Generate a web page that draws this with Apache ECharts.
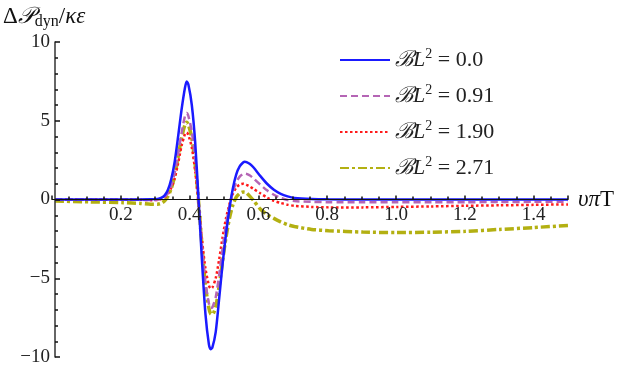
<!DOCTYPE html>
<html>
<head>
<meta charset="utf-8">
<script src="https://cdn.jsdelivr.net/npm/echarts@6/dist/echarts.min.js"></script>
<style>
  html, body { margin: 0; padding: 0; background: #fff; }
  #chart { width: 623px; height: 375px; }
</style>
</head>
<body>
<div id="chart"></div>
<script>
// x values (υπT) shared by all curves
const xs = [0, 0.1, 0.2, 0.25, 0.28,
  0.30, 0.31, 0.32, 0.33, 0.34, 0.35, 0.36, 0.37, 0.38, 0.385,
  0.39, 0.40, 0.41, 0.42, 0.43, 0.44, 0.45, 0.455,
  0.46, 0.47, 0.48, 0.49, 0.50, 0.51, 0.52, 0.53, 0.54, 0.55, 0.555,
  0.56, 0.57, 0.58, 0.60, 0.62, 0.64, 0.66, 0.68, 0.70, 0.75, 0.80,
  0.90, 1.0, 1.1, 1.2, 1.3, 1.4, 1.5]

// BL^2 = 0.0
const bl00 = [0, 0, 0, 0, 0.01,
  0.04, 0.1, 0.25, 0.6, 1.3, 2.4, 4.0, 5.7, 7.1, 7.5,
  7.3, 6.0, 3.6, -0.1, -4.0, -7.3, -9.2, -9.5,
  -9.4, -8.4, -6.3, -4.1, -2.2, -0.6, 0.7, 1.6, 2.1, 2.35, 2.4,
  2.38, 2.25, 2.05, 1.5, 1.0, 0.62, 0.36, 0.2, 0.1, 0.03, 0.01,
  0, 0, 0, 0, 0, 0, 0]

// BL^2 = 0.91
const bl091 = [0, 0, 0, -0.02, -0.03,
  -0.02, 0.03, 0.15, 0.4, 0.9, 1.7, 2.9, 4.2, 5.3, 5.5,
  5.3, 4.3, 2.5, -0.1, -3.0, -5.3, -6.6, -6.9,
  -6.85, -6.2, -4.8, -3.1, -1.6, -0.4, 0.5, 1.1, 1.45, 1.62, 1.65,
  1.63, 1.52, 1.35, 0.95, 0.58, 0.3, 0.1, -0.03, -0.1, -0.15, -0.17,
  -0.18, -0.18, -0.17, -0.17, -0.16, -0.15, -0.15]

// BL^2 = 1.90
const bl190 = [0, 0, 0, -0.02, -0.04,
  -0.03, 0.02, 0.12, 0.35, 0.75, 1.35, 2.3, 3.4, 4.15, 4.25,
  4.1, 3.3, 1.8, -0.3, -2.6, -4.4, -5.45, -5.65,
  -5.6, -5.0, -3.8, -2.4, -1.2, -0.3, 0.35, 0.75, 0.95, 1.0, 0.98,
  0.93, 0.82, 0.68, 0.4, 0.12, -0.08, -0.22, -0.33, -0.4, -0.47, -0.5,
  -0.5, -0.47, -0.44, -0.4, -0.37, -0.34, -0.31]

// BL^2 = 2.71
const bl271 = [-0.1, -0.15, -0.2, -0.25, -0.3,
  -0.3, -0.25, -0.1, 0.2, 0.7, 1.5, 2.7, 3.9, 4.75, 4.9,
  4.75, 3.9, 2.2, -0.2, -3.0, -5.5, -6.9, -7.25,
  -7.3, -6.8, -5.5, -3.9, -2.4, -1.2, -0.35, 0.15, 0.38, 0.47, 0.46,
  0.42, 0.2, -0.05, -0.6, -0.95, -1.2, -1.42, -1.6, -1.72, -1.9, -1.98,
  -2.07, -2.1, -2.08, -2.02, -1.9, -1.78, -1.65]

const legendLabels = ['0.0', '0.91', '1.90', '2.71']
const xTicks = [0.2, 0.4, 0.6, 0.8, 1.0, 1.2, 1.4]
const yTicks = [-10, -5, 0, 5, 10]

const serif = "Liberation Serif"

const curves = [
  { ys: bl00, color: '#1a1aff', type: 'solid', width: 2.5 },
  { ys: bl091, color: '#b565b5', type: [7, 4], width: 2.5 },
  { ys: bl190, color: '#ff1a1a', type: [2.5, 2.5], width: 2.5 },
  { ys: bl271, color: '#b3b012', type: [9, 3, 3, 3], width: 3.5 }
]

const chart = echarts.init(document.getElementById('chart'), null, { renderer: 'canvas' })

chart.setOption({
  animation: false,
  grid: [
    // data area
    { left: 52, right: 55, top: 42, bottom: 18 },
    // upper half: its bottom edge is the y = 0 line, carries the x axis
    { left: 52, right: 55, top: 42, height: 157.5 }
  ],
  legend: {
    orient: 'vertical',
    left: 334,
    top: 42,
    itemWidth: 50,
    itemHeight: 20,
    itemGap: 12,
    itemStyle: { opacity: 0 },
    textStyle: {
      fontFamily: serif,
      fontSize: 22,
      color: '#222',
      rich: {
        b: { fontFamily: serif, fontSize: 22, fontStyle: 'italic', color: '#222' },
        l: { fontFamily: serif, fontSize: 22, fontStyle: 'italic', color: '#222' },
        s: { fontFamily: serif, fontSize: 14, color: '#222', padding: [0, 0, 12, 0] },
        t: { fontFamily: serif, fontSize: 22, color: '#222' }
      }
    },
    formatter: name => {
      const i = Number(name)
      return '{b|ℬ}{l|L}{s|2}{t| = ' + legendLabels[i] + '}'
    }
  },
  xAxis: [
    {
      gridIndex: 0,
      type: 'value',
      min: 0,
      max: 1.5,
      show: false
    },
    {
      gridIndex: 1,
      type: 'value',
      min: 0,
      max: 1.5,
      interval: 0.2,
      position: 'bottom',
      z: 20,
      name: '{i|υπ}{r|T}',
      nameLocation: 'end',
      nameGap: 10,
      nameTextStyle: {
        rich: {
          i: { fontFamily: serif, fontSize: 23, fontStyle: 'italic', color: '#111' },
          r: { fontFamily: serif, fontSize: 23, color: '#111' }
        }
      },
      axisLine: { show: true, onZero: false, lineStyle: { color: '#111', width: 1.2 } },
      axisTick: { show: true, inside: true, length: 4, lineStyle: { color: '#111', width: 1.5 } },
      minorTick: { show: true, splitNumber: 4, length: 3, lineStyle: { color: '#111', width: 1.5 } },
      splitLine: { show: false },
      axisLabel: {
        fontFamily: serif,
        fontSize: 19,
        color: '#222',
        margin: 6,
        showMaxLabel: false,
        formatter: v => xTicks.some(t => Math.abs(t - v) < 1e-6) ? v.toFixed(1) : ''
      }
    }
  ],
  yAxis: [
    {
      gridIndex: 0,
      type: 'value',
      min: -10,
      max: 10,
      interval: 5,
      z: 20,
      name: '{d|Δ}{p|𝒫}{sub|dyn}{d|/}{k|κε}',
      nameLocation: 'end',
      nameGap: 12,
      nameTextStyle: {
        align: 'left',
        padding: [0, 0, 0, -52],
        rich: {
          d: { fontFamily: serif, fontSize: 23, color: '#111' },
          p: { fontFamily: serif, fontSize: 23, fontStyle: 'italic', color: '#111' },
          k: { fontFamily: serif, fontSize: 23, fontStyle: 'italic', color: '#111' },
          sub: { fontFamily: serif, fontSize: 16, color: '#111', padding: [10, 0, 0, 0] }
        }
      },
      axisLine: { show: true, onZero: false, lineStyle: { color: '#333', width: 1.5 } },
      axisTick: { show: true, inside: true, length: 5, lineStyle: { color: '#111', width: 1.5 } },
      minorTick: { show: true, splitNumber: 5, length: 3, lineStyle: { color: '#111', width: 1.5 } },
      splitLine: { show: false },
      axisLabel: {
        fontFamily: serif,
        fontSize: 19,
        color: '#222',
        margin: 5,
        formatter: v => yTicks.includes(v) ? (v < 0 ? '\u2212' + Math.abs(v) : String(v)) : ''
      }
    },
    {
      gridIndex: 1,
      type: 'value',
      min: 0,
      max: 1,
      show: false
    }
  ],
  series: curves.map((c, i) => ({
    name: String(i),
    type: 'line',
    xAxisIndex: 0,
    yAxisIndex: 0,
    symbol: 'none',
    smooth: 0.25,
    z: 10 - i,
    lineStyle: { color: c.color, width: c.width, type: c.type },
    itemStyle: { color: c.color },
    data: xs.map((x, k) => [x, c.ys[k]])
  }))
})
</script>
</body>
</html>
